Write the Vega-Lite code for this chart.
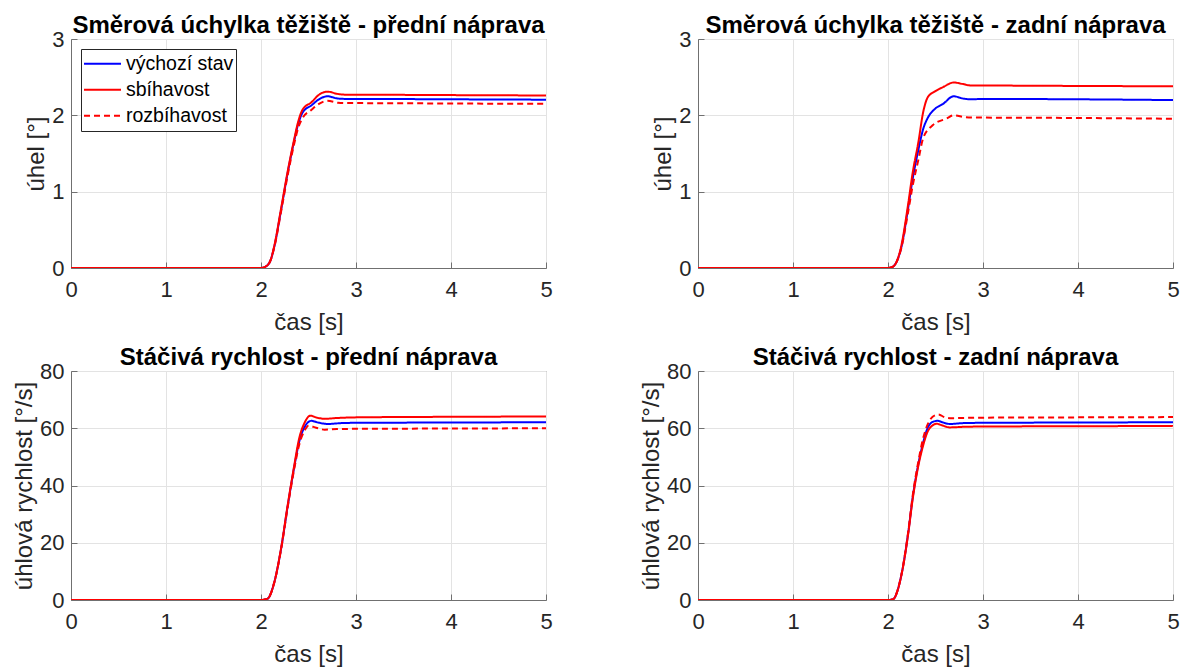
{
  "$schema": "https://vega.github.io/schema/vega-lite/v6.json",
  "padding": {"left": 12, "top": 13, "right": 5, "bottom": 0},
  "background": "white",
  "datasets": {
    "d": [
      {"p":1,"s":"výchozí stav","t":0,"v":0},{"p":1,"s":"výchozí stav","t":2.0,"v":0},{"p":1,"s":"výchozí stav","t":2.05,"v":0.02},{"p":1,"s":"výchozí stav","t":2.1,"v":0.1},{"p":1,"s":"výchozí stav","t":2.14,"v":0.28},{"p":1,"s":"výchozí stav","t":2.21,"v":0.75},{"p":1,"s":"výchozí stav","t":2.28,"v":1.24},{"p":1,"s":"výchozí stav","t":2.35,"v":1.67},{"p":1,"s":"výchozí stav","t":2.39,"v":1.88},{"p":1,"s":"výchozí stav","t":2.44,"v":2.04},{"p":1,"s":"výchozí stav","t":2.53,"v":2.13},{"p":1,"s":"výchozí stav","t":2.61,"v":2.21},{"p":1,"s":"výchozí stav","t":2.7,"v":2.25},{"p":1,"s":"výchozí stav","t":2.81,"v":2.22},{"p":1,"s":"výchozí stav","t":2.9,"v":2.215},{"p":1,"s":"výchozí stav","t":3,"v":2.215},{"p":1,"s":"výchozí stav","t":4,"v":2.21},{"p":1,"s":"výchozí stav","t":5,"v":2.205},
      {"p":1,"s":"sbíhavost","t":0,"v":0},{"p":1,"s":"sbíhavost","t":2.0,"v":0},{"p":1,"s":"sbíhavost","t":2.05,"v":0.02},{"p":1,"s":"sbíhavost","t":2.1,"v":0.1},{"p":1,"s":"sbíhavost","t":2.14,"v":0.29},{"p":1,"s":"sbíhavost","t":2.21,"v":0.77},{"p":1,"s":"sbíhavost","t":2.28,"v":1.26},{"p":1,"s":"sbíhavost","t":2.35,"v":1.69},{"p":1,"s":"sbíhavost","t":2.39,"v":1.91},{"p":1,"s":"sbíhavost","t":2.44,"v":2.08},{"p":1,"s":"sbíhavost","t":2.53,"v":2.17},{"p":1,"s":"sbíhavost","t":2.61,"v":2.27},{"p":1,"s":"sbíhavost","t":2.7,"v":2.31},{"p":1,"s":"sbíhavost","t":2.81,"v":2.28},{"p":1,"s":"sbíhavost","t":2.9,"v":2.27},{"p":1,"s":"sbíhavost","t":3,"v":2.27},{"p":1,"s":"sbíhavost","t":4,"v":2.265},{"p":1,"s":"sbíhavost","t":5,"v":2.26},
      {"p":1,"s":"rozbíhavost","t":0,"v":0},{"p":1,"s":"rozbíhavost","t":2.0,"v":0},{"p":1,"s":"rozbíhavost","t":2.05,"v":0.02},{"p":1,"s":"rozbíhavost","t":2.1,"v":0.1},{"p":1,"s":"rozbíhavost","t":2.14,"v":0.27},{"p":1,"s":"rozbíhavost","t":2.21,"v":0.73},{"p":1,"s":"rozbíhavost","t":2.28,"v":1.21},{"p":1,"s":"rozbíhavost","t":2.35,"v":1.63},{"p":1,"s":"rozbíhavost","t":2.39,"v":1.83},{"p":1,"s":"rozbíhavost","t":2.44,"v":1.97},{"p":1,"s":"rozbíhavost","t":2.53,"v":2.07},{"p":1,"s":"rozbíhavost","t":2.61,"v":2.15},{"p":1,"s":"rozbíhavost","t":2.7,"v":2.19},{"p":1,"s":"rozbíhavost","t":2.81,"v":2.165},{"p":1,"s":"rozbíhavost","t":2.9,"v":2.16},{"p":1,"s":"rozbíhavost","t":3,"v":2.16},{"p":1,"s":"rozbíhavost","t":4,"v":2.155},{"p":1,"s":"rozbíhavost","t":5,"v":2.15},

      {"p":2,"s":"výchozí stav","t":0,"v":0},{"p":2,"s":"výchozí stav","t":2.0,"v":0},{"p":2,"s":"výchozí stav","t":2.04,"v":0.01},{"p":2,"s":"výchozí stav","t":2.09,"v":0.08},{"p":2,"s":"výchozí stav","t":2.14,"v":0.27},{"p":2,"s":"výchozí stav","t":2.21,"v":0.77},{"p":2,"s":"výchozí stav","t":2.26,"v":1.17},{"p":2,"s":"výchozí stav","t":2.32,"v":1.55},{"p":2,"s":"výchozí stav","t":2.37,"v":1.82},{"p":2,"s":"výchozí stav","t":2.42,"v":1.97},{"p":2,"s":"výchozí stav","t":2.49,"v":2.08},{"p":2,"s":"výchozí stav","t":2.58,"v":2.15},{"p":2,"s":"výchozí stav","t":2.69,"v":2.25},{"p":2,"s":"výchozí stav","t":2.79,"v":2.22},{"p":2,"s":"výchozí stav","t":2.88,"v":2.21},{"p":2,"s":"výchozí stav","t":3,"v":2.215},{"p":2,"s":"výchozí stav","t":4,"v":2.21},{"p":2,"s":"výchozí stav","t":5,"v":2.2},
      {"p":2,"s":"sbíhavost","t":0,"v":0},{"p":2,"s":"sbíhavost","t":2.0,"v":0},{"p":2,"s":"sbíhavost","t":2.04,"v":0.01},{"p":2,"s":"sbíhavost","t":2.09,"v":0.08},{"p":2,"s":"sbíhavost","t":2.14,"v":0.29},{"p":2,"s":"sbíhavost","t":2.21,"v":0.82},{"p":2,"s":"sbíhavost","t":2.26,"v":1.25},{"p":2,"s":"sbíhavost","t":2.32,"v":1.65},{"p":2,"s":"sbíhavost","t":2.37,"v":2.04},{"p":2,"s":"sbíhavost","t":2.42,"v":2.24},{"p":2,"s":"sbíhavost","t":2.49,"v":2.31},{"p":2,"s":"sbíhavost","t":2.58,"v":2.37},{"p":2,"s":"sbíhavost","t":2.69,"v":2.43},{"p":2,"s":"sbíhavost","t":2.79,"v":2.41},{"p":2,"s":"sbíhavost","t":2.88,"v":2.39},{"p":2,"s":"sbíhavost","t":3,"v":2.39},{"p":2,"s":"sbíhavost","t":4,"v":2.385},{"p":2,"s":"sbíhavost","t":5,"v":2.38},
      {"p":2,"s":"rozbíhavost","t":0,"v":0},{"p":2,"s":"rozbíhavost","t":2.0,"v":0},{"p":2,"s":"rozbíhavost","t":2.04,"v":0.01},{"p":2,"s":"rozbíhavost","t":2.09,"v":0.08},{"p":2,"s":"rozbíhavost","t":2.14,"v":0.26},{"p":2,"s":"rozbíhavost","t":2.21,"v":0.72},{"p":2,"s":"rozbíhavost","t":2.26,"v":1.08},{"p":2,"s":"rozbíhavost","t":2.32,"v":1.42},{"p":2,"s":"rozbíhavost","t":2.37,"v":1.7},{"p":2,"s":"rozbíhavost","t":2.47,"v":1.87},{"p":2,"s":"rozbíhavost","t":2.62,"v":1.96},{"p":2,"s":"rozbíhavost","t":2.69,"v":2.0},{"p":2,"s":"rozbíhavost","t":2.81,"v":1.975},{"p":2,"s":"rozbíhavost","t":2.9,"v":1.97},{"p":2,"s":"rozbíhavost","t":3,"v":1.97},{"p":2,"s":"rozbíhavost","t":4,"v":1.965},{"p":2,"s":"rozbíhavost","t":5,"v":1.955},

      {"p":3,"s":"výchozí stav","t":0,"v":0},{"p":3,"s":"výchozí stav","t":2.0,"v":0},{"p":3,"s":"výchozí stav","t":2.07,"v":0.5},{"p":3,"s":"výchozí stav","t":2.14,"v":6.2},{"p":3,"s":"výchozí stav","t":2.21,"v":17.6},{"p":3,"s":"výchozí stav","t":2.28,"v":32.6},{"p":3,"s":"výchozí stav","t":2.35,"v":46.5},{"p":3,"s":"výchozí stav","t":2.4,"v":55},{"p":3,"s":"výchozí stav","t":2.46,"v":60.5},{"p":3,"s":"výchozí stav","t":2.53,"v":62.6},{"p":3,"s":"výchozí stav","t":2.6,"v":62},{"p":3,"s":"výchozí stav","t":2.7,"v":61.5},{"p":3,"s":"výchozí stav","t":2.85,"v":61.8},{"p":3,"s":"výchozí stav","t":3,"v":61.9},{"p":3,"s":"výchozí stav","t":4,"v":62.0},{"p":3,"s":"výchozí stav","t":5,"v":62.1},
      {"p":3,"s":"sbíhavost","t":0,"v":0},{"p":3,"s":"sbíhavost","t":2.0,"v":0},{"p":3,"s":"sbíhavost","t":2.07,"v":0.5},{"p":3,"s":"sbíhavost","t":2.14,"v":6.2},{"p":3,"s":"sbíhavost","t":2.21,"v":17.8},{"p":3,"s":"sbíhavost","t":2.28,"v":33},{"p":3,"s":"sbíhavost","t":2.35,"v":47},{"p":3,"s":"sbíhavost","t":2.4,"v":56.2},{"p":3,"s":"sbíhavost","t":2.46,"v":62},{"p":3,"s":"sbíhavost","t":2.52,"v":64.4},{"p":3,"s":"sbíhavost","t":2.58,"v":63.8},{"p":3,"s":"sbíhavost","t":2.67,"v":63.3},{"p":3,"s":"sbíhavost","t":2.81,"v":63.6},{"p":3,"s":"sbíhavost","t":3,"v":63.8},{"p":3,"s":"sbíhavost","t":4,"v":64.0},{"p":3,"s":"sbíhavost","t":5,"v":64.1},
      {"p":3,"s":"rozbíhavost","t":0,"v":0},{"p":3,"s":"rozbíhavost","t":2.0,"v":0},{"p":3,"s":"rozbíhavost","t":2.07,"v":0.5},{"p":3,"s":"rozbíhavost","t":2.14,"v":6.1},{"p":3,"s":"rozbíhavost","t":2.21,"v":17.4},{"p":3,"s":"rozbíhavost","t":2.28,"v":32.2},{"p":3,"s":"rozbíhavost","t":2.35,"v":45.8},{"p":3,"s":"rozbíhavost","t":2.4,"v":54},{"p":3,"s":"rozbíhavost","t":2.46,"v":59.3},{"p":3,"s":"rozbíhavost","t":2.5,"v":60.9},{"p":3,"s":"rozbíhavost","t":2.58,"v":60.2},{"p":3,"s":"rozbíhavost","t":2.67,"v":59.5},{"p":3,"s":"rozbíhavost","t":2.8,"v":59.7},{"p":3,"s":"rozbíhavost","t":3,"v":59.8},{"p":3,"s":"rozbíhavost","t":4,"v":59.9},{"p":3,"s":"rozbíhavost","t":5,"v":60.0},

      {"p":4,"s":"výchozí stav","t":0,"v":0},{"p":4,"s":"výchozí stav","t":2.0,"v":0},{"p":4,"s":"výchozí stav","t":2.05,"v":0.2},{"p":4,"s":"výchozí stav","t":2.14,"v":8.6},{"p":4,"s":"výchozí stav","t":2.21,"v":22.8},{"p":4,"s":"výchozí stav","t":2.26,"v":35.8},{"p":4,"s":"výchozí stav","t":2.32,"v":47.6},{"p":4,"s":"výchozí stav","t":2.37,"v":55},{"p":4,"s":"výchozí stav","t":2.42,"v":60.3},{"p":4,"s":"výchozí stav","t":2.47,"v":62.2},{"p":4,"s":"výchozí stav","t":2.52,"v":62.6},{"p":4,"s":"výchozí stav","t":2.58,"v":62},{"p":4,"s":"výchozí stav","t":2.65,"v":61.5},{"p":4,"s":"výchozí stav","t":2.8,"v":61.8},{"p":4,"s":"výchozí stav","t":3,"v":61.9},{"p":4,"s":"výchozí stav","t":4,"v":62.0},{"p":4,"s":"výchozí stav","t":5,"v":62.1},
      {"p":4,"s":"sbíhavost","t":0,"v":0},{"p":4,"s":"sbíhavost","t":2.0,"v":0},{"p":4,"s":"sbíhavost","t":2.05,"v":0.2},{"p":4,"s":"sbíhavost","t":2.14,"v":8.5},{"p":4,"s":"sbíhavost","t":2.21,"v":22.5},{"p":4,"s":"sbíhavost","t":2.26,"v":35.3},{"p":4,"s":"sbíhavost","t":2.32,"v":47},{"p":4,"s":"sbíhavost","t":2.37,"v":54},{"p":4,"s":"sbíhavost","t":2.42,"v":59},{"p":4,"s":"sbíhavost","t":2.47,"v":61},{"p":4,"s":"sbíhavost","t":2.51,"v":61.6},{"p":4,"s":"sbíhavost","t":2.57,"v":61},{"p":4,"s":"sbíhavost","t":2.65,"v":60.3},{"p":4,"s":"sbíhavost","t":2.8,"v":60.5},{"p":4,"s":"sbíhavost","t":3,"v":60.6},{"p":4,"s":"sbíhavost","t":4,"v":60.7},{"p":4,"s":"sbíhavost","t":5,"v":60.8},
      {"p":4,"s":"rozbíhavost","t":0,"v":0},{"p":4,"s":"rozbíhavost","t":2.0,"v":0},{"p":4,"s":"rozbíhavost","t":2.05,"v":0.2},{"p":4,"s":"rozbíhavost","t":2.14,"v":8.7},{"p":4,"s":"rozbíhavost","t":2.21,"v":23.2},{"p":4,"s":"rozbíhavost","t":2.26,"v":36.5},{"p":4,"s":"rozbíhavost","t":2.32,"v":48.5},{"p":4,"s":"rozbíhavost","t":2.37,"v":56.5},{"p":4,"s":"rozbíhavost","t":2.42,"v":61.5},{"p":4,"s":"rozbíhavost","t":2.47,"v":64},{"p":4,"s":"rozbíhavost","t":2.53,"v":64.8},{"p":4,"s":"rozbíhavost","t":2.6,"v":63.8},{"p":4,"s":"rozbíhavost","t":2.67,"v":63.5},{"p":4,"s":"rozbíhavost","t":2.8,"v":63.6},{"p":4,"s":"rozbíhavost","t":3,"v":63.7},{"p":4,"s":"rozbíhavost","t":4,"v":63.8},{"p":4,"s":"rozbíhavost","t":5,"v":63.9}
    ]
  },
  "config": {
    "font": "Liberation Sans",
    "view": {"stroke": "#707070", "strokeWidth": 1},
    "axis": {
      "labelFont": "Liberation Sans", "labelFontSize": 22, "labelColor": "#262626",
      "titleFont": "Liberation Sans", "titleFontSize": 24, "titleFontWeight": "normal", "titleColor": "#262626",
      "domainColor": "#707070", "tickColor": "#707070", "tickSize": -6,
      "gridColor": "#e3e3e3", "gridOpacity": 1, "labelFlush": false, "labelOverlap": false
    },
    "axisY": {"labelPadding": 13, "titlePadding": 3},
    "axisX": {"labelPadding": 17, "titlePadding": 10},
    "title": {"font": "Liberation Sans", "fontSize": 24, "fontWeight": "bold", "color": "black", "anchor": "middle", "offset": -10},
    "legend": {
      "labelFont": "Liberation Sans", "labelFontSize": 19.5, "labelColor": "black",
      "symbolType": "stroke", "symbolSize": 1369, "symbolStrokeWidth": 2,
      "strokeColor": "#262626", "fillColor": "white", "padding": 2, "rowPadding": 0, "clipHeight": 25.5, "labelOffset": 4
    }
  },
  "columns": 2,
  "spacing": {"row": 103, "column": 152},
  "bounds": "flush",
  "resolve": {"scale": {"color": "independent", "strokeDash": "independent"}},
  "concat": [
    {
      "width": 475, "height": 229,
      "title": "Směrová úchylka těžiště - přední náprava",
      "data": {"name": "d"},
      "transform": [{"filter": "datum.p == 1"}],
      "mark": {"type": "line", "strokeWidth": 2, "interpolate": "monotone", "clip": true},
      "encoding": {
        "x": {"field": "t", "type": "quantitative", "scale": {"domain": [0, 5], "nice": false}, "axis": {"values": [0, 1, 2, 3, 4, 5], "title": "čas [s]"}},
        "y": {"field": "v", "type": "quantitative", "scale": {"domain": [0, 3], "nice": false}, "axis": {"values": [0, 1, 2, 3], "title": "úhel [°]"}},
        "color": {"field": "s", "type": "nominal", "scale": {"domain": ["výchozí stav", "sbíhavost", "rozbíhavost"], "range": ["#0000ff", "#ff0000", "#ff0000"]}, "legend": {"title": null, "orient": "top-left", "offset": 10}},
        "strokeDash": {"field": "s", "type": "nominal", "scale": {"domain": ["výchozí stav", "sbíhavost", "rozbíhavost"], "range": [[1, 0], [1, 0], [6, 4]]}, "legend": {"title": null, "orient": "top-left", "offset": 10}}
      }
    },
    {
      "width": 475, "height": 229,
      "title": "Směrová úchylka těžiště - zadní náprava",
      "data": {"name": "d"},
      "transform": [{"filter": "datum.p == 2"}],
      "mark": {"type": "line", "strokeWidth": 2, "interpolate": "monotone", "clip": true},
      "encoding": {
        "x": {"field": "t", "type": "quantitative", "scale": {"domain": [0, 5], "nice": false}, "axis": {"values": [0, 1, 2, 3, 4, 5], "title": "čas [s]"}},
        "y": {"field": "v", "type": "quantitative", "scale": {"domain": [0, 3], "nice": false}, "axis": {"values": [0, 1, 2, 3], "title": "úhel [°]"}},
        "color": {"field": "s", "type": "nominal", "scale": {"domain": ["výchozí stav", "sbíhavost", "rozbíhavost"], "range": ["#0000ff", "#ff0000", "#ff0000"]}, "legend": null},
        "strokeDash": {"field": "s", "type": "nominal", "scale": {"domain": ["výchozí stav", "sbíhavost", "rozbíhavost"], "range": [[1, 0], [1, 0], [6, 4]]}, "legend": null}
      }
    },
    {
      "width": 475, "height": 229,
      "title": "Stáčivá rychlost - přední náprava",
      "data": {"name": "d"},
      "transform": [{"filter": "datum.p == 3"}],
      "mark": {"type": "line", "strokeWidth": 2, "interpolate": "monotone", "clip": true},
      "encoding": {
        "x": {"field": "t", "type": "quantitative", "scale": {"domain": [0, 5], "nice": false}, "axis": {"values": [0, 1, 2, 3, 4, 5], "title": "čas [s]"}},
        "y": {"field": "v", "type": "quantitative", "scale": {"domain": [0, 80], "nice": false}, "axis": {"values": [0, 20, 40, 60, 80], "title": "úhlová rychlost [°/s]"}},
        "color": {"field": "s", "type": "nominal", "scale": {"domain": ["výchozí stav", "sbíhavost", "rozbíhavost"], "range": ["#0000ff", "#ff0000", "#ff0000"]}, "legend": null},
        "strokeDash": {"field": "s", "type": "nominal", "scale": {"domain": ["výchozí stav", "sbíhavost", "rozbíhavost"], "range": [[1, 0], [1, 0], [6, 4]]}, "legend": null}
      }
    },
    {
      "width": 475, "height": 229,
      "title": "Stáčivá rychlost - zadní náprava",
      "data": {"name": "d"},
      "transform": [{"filter": "datum.p == 4"}],
      "mark": {"type": "line", "strokeWidth": 2, "interpolate": "monotone", "clip": true},
      "encoding": {
        "x": {"field": "t", "type": "quantitative", "scale": {"domain": [0, 5], "nice": false}, "axis": {"values": [0, 1, 2, 3, 4, 5], "title": "čas [s]"}},
        "y": {"field": "v", "type": "quantitative", "scale": {"domain": [0, 80], "nice": false}, "axis": {"values": [0, 20, 40, 60, 80], "title": "úhlová rychlost [°/s]"}},
        "color": {"field": "s", "type": "nominal", "scale": {"domain": ["výchozí stav", "sbíhavost", "rozbíhavost"], "range": ["#0000ff", "#ff0000", "#ff0000"]}, "legend": null},
        "strokeDash": {"field": "s", "type": "nominal", "scale": {"domain": ["výchozí stav", "sbíhavost", "rozbíhavost"], "range": [[1, 0], [1, 0], [6, 4]]}, "legend": null}
      }
    }
  ]
}
